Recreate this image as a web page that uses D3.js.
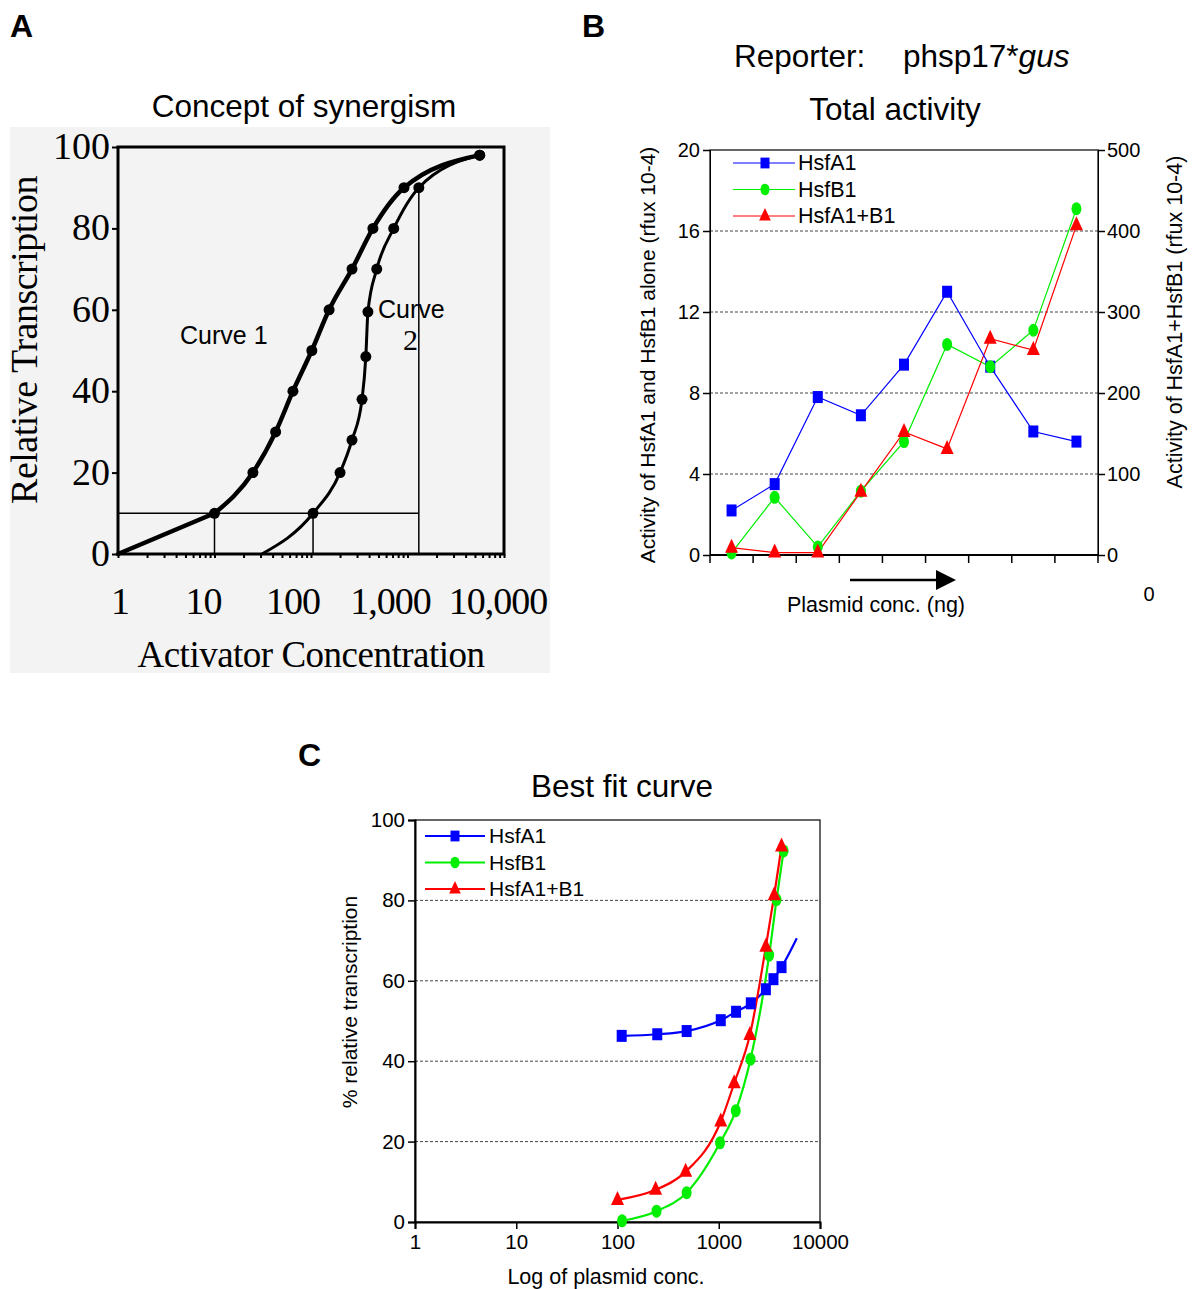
<!DOCTYPE html>
<html lang="en">
<head>
<meta charset="UTF-8">
<title>Synergism figure</title>
<style>
  body { margin: 0; background: #fff; }
  svg text { font-family: "Liberation Sans", Arial, sans-serif; fill: #000; }
  .serif { font-family: "Liberation Serif", "Times New Roman", serif !important; }
</style>
</head>
<body>
<div id="chart"></div>
<script src="https://d3js.org/d3.v7.min.js"></script>
<script>
// ---- Panel A: concept of synergism (activator conc., % transcription)
const curve1Conc = [1, 10, 25, 43, 65, 102, 154, 266, 438, 920, 5600];
const curve1Resp = [0, 10, 20, 30, 40, 50, 60, 70, 80, 90, 98];
const curve2Conc = [31, 105, 200, 266, 338, 370, 389, 480, 720, 1310, 5600];
const curve2Resp = [0, 10, 20, 28, 38, 48.5, 59.5, 70, 80, 90, 98];
const aYTicks = [0, 20, 40, 60, 80, 100];
const aXTicks = [1, 10, 100, 1000, 10000];
const aXLabels = ["1", "10", "100", "1,000", "10,000"];

// ---- Panel B: total activity per plasmid step
const plasmidSteps = [1, 2, 3, 4, 5, 6, 7, 8, 9];
const hsfA1Total = [2.2, 3.5, 7.8, 6.9, 9.4, 13.0, 9.3, 6.1, 5.6];
const hsfB1Total = [0.1, 2.85, 0.4, 3.15, 5.6, 10.4, 9.3, 11.1, 17.1];
const comboTotal = [9, 3, 3, 78, 152, 131, 267, 253, 407];
const bLeftTicks = [0, 4, 8, 12, 16, 20];
const bRightTicks = [0, 100, 200, 300, 400, 500];

// ---- Panel C: best fit curve
const hsfA1Conc = [110, 247, 482, 1047, 1483, 2073, 2920, 3470, 4170, 5900];
const hsfA1Fit = [46.3, 46.7, 47.5, 50.2, 52.3, 54.4, 57.9, 60.4, 63.4, 70.6];
const hsfB1Conc = [111, 243, 482, 1030, 1473, 2060, 3150, 3720, 4370];
const hsfB1Fit = [0.3, 2.7, 7.3, 19.7, 27.7, 40.5, 66.4, 80.2, 92.3];
const comboConc = [100, 238, 471, 1047, 1420, 2030, 2920, 3530, 4170];
const comboFit = [5.5, 8.0, 12.5, 25, 34.5, 46.5, 68.5, 81.3, 93.4];
const cYTicks = [0, 20, 40, 60, 80, 100];
const cXTicks = [1, 10, 100, 1000, 10000];

const seriesNames = ["HsfA1", "HsfB1", "HsfA1+B1"];
const seriesColors = ["#0000ff", "#00ee00", "#ff0000"];

const svg = d3.select("#chart").append("svg")
  .attr("width", 1197).attr("height", 1289);

// marker helpers
function marker(g, kind, x, y, color, s) {
  s = s || 1;
  if (kind === 0) {
    g.append("rect").attr("x", x - 5 * s).attr("y", y - 6 * s)
      .attr("width", 10 * s).attr("height", 12 * s).attr("fill", color);
  } else if (kind === 1) {
    g.append("ellipse").attr("cx", x).attr("cy", y)
      .attr("rx", 5 * s).attr("ry", 6.5 * s).attr("fill", color);
  } else {
    g.append("path").attr("transform", `translate(${x},${y})`)
      .attr("d", `M0,${-9 * s}L${6.5 * s},${5 * s}L${-6.5 * s},${5 * s}Z`)
      .attr("fill", color);
  }
}

// panel letters
[["A", 10, 37], ["B", 582, 37], ["C", 298, 766]].forEach(d => {
  svg.append("text").attr("x", d[1]).attr("y", d[2])
    .style("font-size", "32px").style("font-weight", "bold").text(d[0]);
});

// ================= Panel A =================
{
  const g = svg.append("g");
  g.append("rect").attr("x", 10).attr("y", 127).attr("width", 540).attr("height", 546)
    .attr("fill", "#f3f3f3");
  g.append("text").attr("x", 304).attr("y", 117).attr("text-anchor", "middle")
    .style("font-size", "31.5px").text("Concept of synergism");

  const x = d3.scaleLog().domain([1, 10000]).range([118, 504]);
  const y = d3.scaleLinear().domain([0, 100]).range([554, 147]);

  g.append("rect").attr("x", x(1)).attr("y", y(100))
    .attr("width", x(10000) - x(1)).attr("height", y(0) - y(100))
    .attr("fill", "none").attr("stroke", "#000").attr("stroke-width", 3);

  // y ticks
  const ya = g.append("g").attr("transform", `translate(${x(1)},0)`)
    .call(d3.axisLeft(y).tickValues(aYTicks).tickSize(6).tickFormat(""));
  ya.select(".domain").remove();
  ya.selectAll("line").attr("stroke-width", 2);
  aYTicks.forEach(v => {
    g.append("text").attr("class", "serif").attr("x", 110).attr("y", y(v) + 12)
      .attr("text-anchor", "end").style("font-size", "38px").text(v);
  });
  // x minor ticks
  const xa = g.append("g").attr("transform", `translate(0,${y(0)})`)
    .call(d3.axisBottom(x).ticks(10).tickSize(4).tickFormat(""));
  xa.select(".domain").remove();
  xa.selectAll("line").attr("stroke-width", 2);
  const labelShift = [2, -11, -18, -17, -6];
  aXTicks.forEach((v, i) => {
    g.append("text").attr("class", "serif").attr("x", x(v) + labelShift[i])
      .attr("y", 614).attr("text-anchor", "middle").style("font-size", "38px")
      .style("letter-spacing", "-1px").text(aXLabels[i]);
  });
  g.append("text").attr("class", "serif").attr("x", 311).attr("y", 667)
    .attr("text-anchor", "middle").style("font-size", "37px")
    .style("letter-spacing", "-0.5px").text("Activator Concentration");
  g.append("text").attr("class", "serif")
    .attr("transform", `translate(37,340) rotate(-90)`)
    .attr("text-anchor", "middle").style("font-size", "38px")
    .style("letter-spacing", "-0.5px").text("Relative Transcription");

  // reference lines at 10%
  const thin = (x1, y1, x2, y2) => g.append("line")
    .attr("x1", x(x1)).attr("y1", y(y1)).attr("x2", x(x2)).attr("y2", y(y2))
    .attr("stroke", "#000").attr("stroke-width", 1.5);
  thin(1, 10, 1310, 10);
  thin(10, 0, 10, 10);
  thin(105, 0, 105, 10);
  thin(1310, 0, 1310, 90);

  const line = d3.line().x(d => x(d[0])).y(d => y(d[1])).curve(d3.curveMonotoneX);
  const straight = d3.line().x(d => x(d[0])).y(d => y(d[1]));
  const c1 = curve1Conc.map((c, i) => [c, curve1Resp[i]]);
  const c2 = curve2Conc.map((c, i) => [c, curve2Resp[i]]);
  // curve 1 is straight (log x) up to the 10% point, smooth after it
  g.append("path").attr("d", straight(c1.slice(0, 2))).attr("fill", "none")
    .attr("stroke", "#000").attr("stroke-width", 4.5).attr("stroke-linecap", "round");
  g.append("path").attr("d", line(c1.slice(1))).attr("fill", "none")
    .attr("stroke", "#000").attr("stroke-width", 4.5);
  g.append("path").attr("d", line(c2)).attr("fill", "none")
    .attr("stroke", "#000").attr("stroke-width", 3);
  c1.slice(1).concat(c2.slice(1)).forEach(d => {
    g.append("circle").attr("cx", x(d[0])).attr("cy", y(d[1])).attr("r", 5.5).attr("fill", "#000");
  });

  g.append("text").attr("x", 180).attr("y", 344).style("font-size", "25px").text("Curve 1");
  g.append("text").attr("x", 378).attr("y", 318).style("font-size", "25px").text("Curve");
  g.append("text").attr("class", "serif").attr("x", 403).attr("y", 350).style("font-size", "30px").text("2");
}

// ================= Panel B =================
{
  const g = svg.append("g");
  const t = g.append("text").attr("x", 734).attr("y", 67).style("font-size", "31.5px");
  t.append("tspan").text("Reporter:");
  t.append("tspan").attr("x", 903).text("phsp17*");
  t.append("tspan").style("font-style", "italic").text("gus");
  g.append("text").attr("x", 895).attr("y", 120).attr("text-anchor", "middle")
    .style("font-size", "31.5px").text("Total activity");

  const x = d3.scaleBand().domain(plasmidSteps).range([710, 1098]);
  const yL = d3.scaleLinear().domain([0, 20]).range([555, 150]);
  const yR = d3.scaleLinear().domain([0, 500]).range([555, 150]);

  // grid
  bLeftTicks.slice(1, -1).forEach(v => {
    g.append("line").attr("x1", 710).attr("x2", 1098).attr("y1", yL(v)).attr("y2", yL(v))
      .attr("stroke", "#444").attr("stroke-width", 1).attr("stroke-dasharray", "3,2");
  });
  g.append("rect").attr("x", 710).attr("y", yL(20)).attr("width", 388).attr("height", yL(0) - yL(20))
    .attr("fill", "none").attr("stroke", "#000").attr("stroke-width", 1.2);

  const la = g.append("g").attr("transform", "translate(710,0)")
    .call(d3.axisLeft(yL).tickValues(bLeftTicks).tickSize(7).tickPadding(3));
  const ra = g.append("g").attr("transform", "translate(1098,0)")
    .call(d3.axisRight(yR).tickValues(bRightTicks).tickSize(7).tickPadding(2));
  [la, ra].forEach(a => {
    a.selectAll("text").style("font-size", "20px").style("font-family", "Liberation Sans, Arial, sans-serif");
    a.selectAll("line").attr("stroke-width", 1.5);
  });
  // x ticks at category boundaries
  plasmidSteps.concat([10]).forEach((s, i) => {
    const px = 710 + i * x.step();
    g.append("line").attr("x1", px).attr("x2", px).attr("y1", 555).attr("y2", 563)
      .attr("stroke", "#000").attr("stroke-width", 1.5);
  });
  g.append("line").attr("x1", 710).attr("x2", 1098).attr("y1", 555).attr("y2", 555)
    .attr("stroke", "#000").attr("stroke-width", 2);

  const cx = s => x(s) + x.bandwidth() / 2;
  const sets = [
    plasmidSteps.map((s, i) => [cx(s), yL(hsfA1Total[i])]),
    plasmidSteps.map((s, i) => [cx(s), yL(hsfB1Total[i])]),
    plasmidSteps.map((s, i) => [cx(s), yR(comboTotal[i])])
  ];
  const line = d3.line();
  [1, 2, 0].forEach(k => {
    g.append("path").attr("d", line(sets[k])).attr("fill", "none")
      .attr("stroke", seriesColors[k]).attr("stroke-width", 1.2);
  });
  [0, 1, 2].forEach(k => sets[k].forEach(p => marker(g, k, p[0], p[1], seriesColors[k], 1)));

  // legend
  seriesNames.forEach((n, k) => {
    const yy = 163 + k * 26.5;
    g.append("line").attr("x1", 733).attr("x2", 795).attr("y1", yy).attr("y2", yy)
      .attr("stroke", seriesColors[k]).attr("stroke-width", 1.2);
    marker(g, k, 765, yy, seriesColors[k], 0.9);
    g.append("text").attr("x", 798).attr("y", yy + 7).style("font-size", "21.5px").text(n);
  });

  // arrow
  g.append("line").attr("x1", 850).attr("x2", 938).attr("y1", 580).attr("y2", 580)
    .attr("stroke", "#000").attr("stroke-width", 2.5);
  g.append("path").attr("d", "M936,570L956,580L936,590Z").attr("fill", "#000");
  g.append("text").attr("x", 876).attr("y", 612).attr("text-anchor", "middle")
    .style("font-size", "21.5px").text("Plasmid conc. (ng)");
  g.append("text").attr("x", 1149).attr("y", 601).attr("text-anchor", "middle")
    .style("font-size", "20px").text("0");

  g.append("text").attr("transform", "translate(655,355) rotate(-90)").attr("text-anchor", "middle")
    .style("font-size", "21px").text("Activity of HsfA1 and HsfB1 alone (rfux 10-4)");
  g.append("text").attr("transform", "translate(1182,322) rotate(-90)").attr("text-anchor", "middle")
    .style("font-size", "21.5px").text("Activity of HsfA1+HsfB1 (rfux 10-4)");
}

// ================= Panel C =================
{
  const g = svg.append("g");
  g.append("text").attr("x", 622).attr("y", 797).attr("text-anchor", "middle")
    .style("font-size", "31.5px").text("Best fit curve");

  const x = d3.scaleLog().domain([1, 10000]).range([415, 820]);
  const y = d3.scaleLinear().domain([0, 100]).range([1222, 820]);

  cYTicks.slice(1, -1).forEach(v => {
    g.append("line").attr("x1", 415).attr("x2", 820).attr("y1", y(v)).attr("y2", y(v))
      .attr("stroke", "#444").attr("stroke-width", 1).attr("stroke-dasharray", "3,2");
  });
  g.append("rect").attr("x", 415).attr("y", 820).attr("width", 405).attr("height", 402)
    .attr("fill", "none").attr("stroke", "#000").attr("stroke-width", 1.2);

  const ya = g.append("g").attr("transform", "translate(415,0)")
    .call(d3.axisLeft(y).tickValues(cYTicks).tickSize(7).tickPadding(3));
  const xa = g.append("g").attr("transform", "translate(0,1222)")
    .call(d3.axisBottom(x).tickValues(cXTicks).tickFormat(d3.format("d")).tickSize(7).tickPadding(5));
  [ya, xa].forEach(a => {
    a.selectAll("text").style("font-size", "20.5px").style("font-family", "Liberation Sans, Arial, sans-serif");
    a.selectAll("line").attr("stroke-width", 1.5);
    a.select(".domain").attr("stroke-width", 2);
  });

  g.append("text").attr("x", 606).attr("y", 1284).attr("text-anchor", "middle")
    .style("font-size", "21.5px").text("Log of plasmid conc.");
  g.append("text").attr("transform", "translate(357,1002) rotate(-90)").attr("text-anchor", "middle")
    .style("font-size", "21px").text("% relative transcription");

  const line = d3.line().x(d => x(d[0])).y(d => y(d[1])).curve(d3.curveMonotoneX);
  const sets = [
    hsfA1Conc.map((c, i) => [c, hsfA1Fit[i]]),
    hsfB1Conc.map((c, i) => [c, hsfB1Fit[i]]),
    comboConc.map((c, i) => [c, comboFit[i]])
  ];
  [0, 1, 2].forEach(k => {
    g.append("path").attr("d", line(sets[k])).attr("fill", "none")
      .attr("stroke", seriesColors[k]).attr("stroke-width", 2.2);
  });
  // blue fit's last point is the curve end, no marker
  [0, 1, 2].forEach(k => {
    const pts = k === 0 ? sets[k].slice(0, -1) : sets[k];
    pts.forEach(p => marker(g, k, x(p[0]), y(p[1]), seriesColors[k], 1));
  });

  seriesNames.forEach((n, k) => {
    const yy = 836 + k * 26.5;
    g.append("line").attr("x1", 425).attr("x2", 485).attr("y1", yy).attr("y2", yy)
      .attr("stroke", seriesColors[k]).attr("stroke-width", 2);
    marker(g, k, 455, yy, seriesColors[k], 0.9);
    g.append("text").attr("x", 489).attr("y", yy + 7).style("font-size", "21px").text(n);
  });
}
</script>
</body>
</html>
